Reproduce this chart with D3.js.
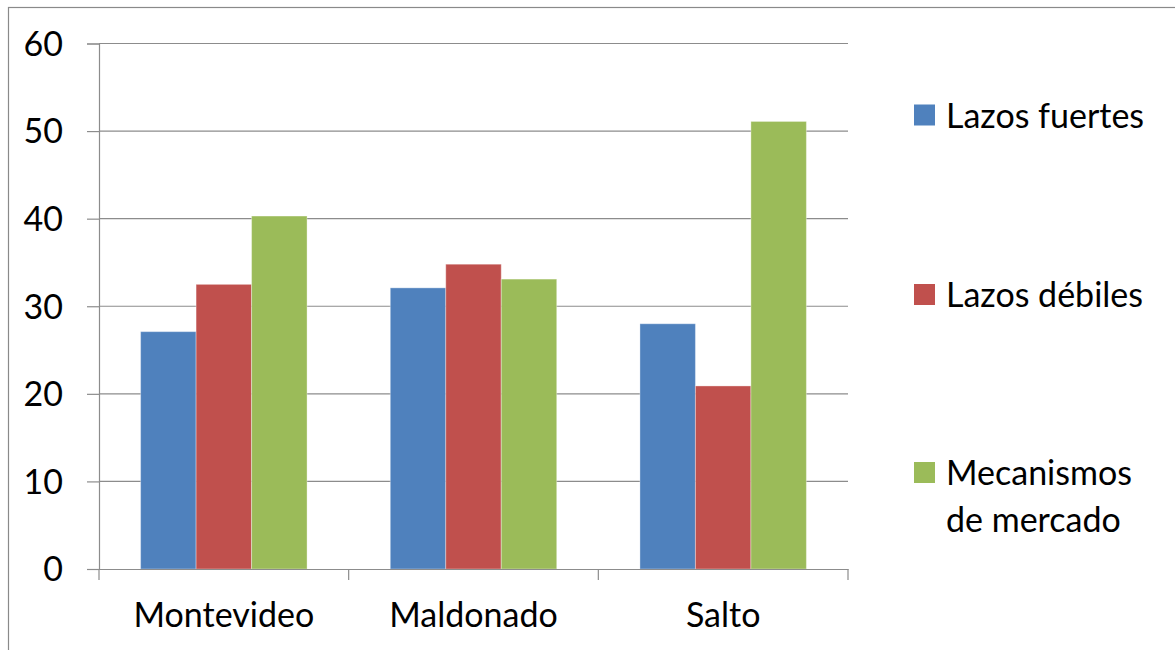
<!DOCTYPE html>
<html><head><meta charset="utf-8">
<script src="https://cdn.jsdelivr.net/npm/d3@7"></script>
<style>body{margin:0;background:#fff}svg{display:block}text{font-family:Lato,"Open Sans",sans-serif}</style>
</head><body><svg id="c" width="1175" height="650"></svg>
<script>
const categories = ["Montevideo", "Maldonado", "Salto"];
const seriesNames = ["Lazos fuertes", "Lazos débiles", "Mecanismos de mercado"];
const lazosFuertes = [27.1, 32.1, 28.0];
const lazosDebiles = [32.5, 34.8, 20.9];
const mecanismosMercado = [40.3, 33.1, 51.1];
const yTicks = [0, 10, 20, 30, 40, 50, 60];
const colors = ["#4F81BD", "#C0504D", "#9BBB59"];

const series = [lazosFuertes, lazosDebiles, mecanismosMercado];
const svg = d3.select("#c");
const m = {left: 99, right: 848, top: 43.5, bottom: 569};
const FS = 34;

// outer border
svg.append("rect").attr("x", 8.5).attr("y", 7.5).attr("width", 1200).attr("height", 700)
  .attr("fill", "none").attr("stroke", "#8a8a8a").attr("stroke-width", 1.2);

const x0 = d3.scaleBand().domain(categories).range([m.left, m.right]).paddingInner(0).paddingOuter(0);
const x1 = d3.scaleBand().domain(seriesNames).range([0, x0.bandwidth()]).paddingInner(0).paddingOuter(0.75);
const y = d3.scaleLinear().domain([0, 60]).range([m.bottom, m.top]);

// gridlines
svg.append("g").selectAll("line").data(yTicks.filter(d => d > 0)).join("line")
  .attr("x1", m.left).attr("x2", m.right)
  .attr("y1", d => y(d)).attr("y2", d => y(d))
  .attr("stroke", "#8c8c8c").attr("stroke-width", 1.2);

// bars
const data = [];
categories.forEach((c, i) => series.forEach((s, j) => data.push({c, s: seriesNames[j], v: s[i], j})));
svg.append("g").selectAll("rect").data(data).join("rect")
  .attr("x", d => x0(d.c) + x1(d.s))
  .attr("width", x1.bandwidth())
  .attr("y", d => y(d.v))
  .attr("height", d => y(0) - y(d.v))
  .attr("fill", d => colors[d.j])
  .attr("stroke", "rgba(255,255,255,0.35)").attr("stroke-width", 1);

// y axis
const yAxis = d3.axisLeft(y).tickValues(yTicks).tickSize(12).tickPadding(24);
const gy = svg.append("g").attr("transform", `translate(${m.left},0)`).call(yAxis);
gy.select(".domain").attr("stroke", "#8c8c8c").attr("stroke-width", 1.2);
gy.selectAll(".tick line").attr("stroke", "#8c8c8c").attr("stroke-width", 1.2);
gy.selectAll(".tick text").attr("font-size", FS).attr("fill", "#000").attr("font-family", "Lato,sans-serif").attr("dy", "0.35em");

// x axis
const xAxis = d3.axisBottom(x0).tickSize(0).tickPadding(34);
const gx = svg.append("g").attr("transform", `translate(0,${m.bottom})`).call(xAxis);
gx.select(".domain").attr("stroke", "#8c8c8c").attr("stroke-width", 1.2);
gx.selectAll(".tick text").attr("font-size", FS).attr("fill", "#000").attr("font-family", "Lato,sans-serif");
// x tick marks at band boundaries
const bounds = categories.map(c => x0(c)).concat([x0(categories[categories.length-1]) + x0.bandwidth()]);
svg.append("g").selectAll("line").data(bounds).join("line")
  .attr("x1", d => d).attr("x2", d => d).attr("y1", m.bottom).attr("y2", m.bottom + 11)
  .attr("stroke", "#8c8c8c").attr("stroke-width", 1.2);

// legend
const legendY = [115, 294.5, 472.5];
const lg = svg.append("g");
seriesNames.forEach((n, i) => {
  lg.append("rect").attr("x", 914).attr("y", legendY[i] - 10.5).attr("width", 21).attr("height", 21).attr("fill", colors[i]);
});
const legendLines = [["Lazos fuertes"], ["Lazos débiles"], ["Mecanismos", "de mercado"]];
legendLines.forEach((lines, i) => {
  const t = lg.append("text").attr("x", 946).attr("y", legendY[i]).attr("font-size", FS).attr("fill", "#000");
  lines.forEach((l, k) => t.append("tspan").attr("x", 946).attr("dy", k === 0 ? "0.37em" : "1.38em").text(l));
});
</script></body></html>
